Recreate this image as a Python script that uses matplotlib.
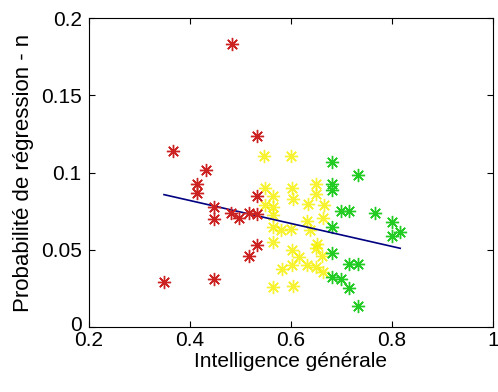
import matplotlib
matplotlib.use("Agg")
import matplotlib.pyplot as plt
import matplotlib.transforms as mtransforms
import numpy as np

# red group
red_x = [0.483, 0.532, 0.366, 0.432, 0.414, 0.414, 0.532, 0.448, 0.448, 0.482,
         0.498, 0.517, 0.532, 0.532, 0.517, 0.349, 0.448]
red_y = [0.183, 0.124, 0.114, 0.102, 0.093, 0.087, 0.085, 0.078, 0.070, 0.074,
         0.071, 0.074, 0.073, 0.053, 0.046, 0.029, 0.031]

# yellow group
yel_x = [0.547, 0.600, 0.549, 0.603, 0.650, 0.565, 0.604, 0.650, 0.549, 0.565,
         0.633, 0.666, 0.565, 0.663, 0.631, 0.564, 0.580, 0.601, 0.638, 0.565,
         0.651, 0.650, 0.602, 0.616, 0.661, 0.602, 0.631, 0.650, 0.582, 0.664,
         0.565, 0.604]
yel_y = [0.111, 0.111, 0.090, 0.090, 0.093, 0.085, 0.083, 0.086, 0.079, 0.078,
         0.080, 0.079, 0.0726, 0.0705, 0.0685, 0.065, 0.063, 0.0635, 0.063, 0.0554,
         0.054, 0.051, 0.050, 0.0457, 0.0462, 0.0405, 0.040, 0.039, 0.0375, 0.0355,
         0.0263, 0.0265]

# green group
grn_x = [0.681, 0.733, 0.681, 0.681, 0.699, 0.715, 0.766, 0.799, 0.816, 0.799,
         0.681, 0.681, 0.715, 0.733, 0.681, 0.699, 0.715, 0.733]
grn_y = [0.107, 0.0985, 0.093, 0.0888, 0.0754, 0.0754, 0.0737, 0.0679, 0.0614, 0.0591,
         0.0651, 0.0479, 0.0409, 0.0409, 0.0323, 0.0312, 0.0256, 0.0138]

# regression line end points
reg_x = [0.349, 0.816]
reg_y = [0.0858, 0.0511]

plt.rcParams['font.family'] = ['Liberation Sans', 'DejaVu Sans']
plt.rcParams['font.size'] = 15

fig = plt.figure(figsize=(4.98, 3.92), dpi=100)
ax = fig.add_axes([0.178, 0.165, 0.8125, 0.789])

# matlab style asterisk: 8 arms
star = (8, 2, 0)
ax.plot(yel_x, yel_y, linestyle='none', marker=star, color='#f5f000', markersize=9.5, markeredgewidth=1.0, alpha=0.8)
ax.plot(grn_x, grn_y, linestyle='none', marker=star, color='#22cc22', markersize=9.5, markeredgewidth=1.0)
ax.plot(reg_x, reg_y, '-', color='#000080', linewidth=1.2)
ax.plot(red_x, red_y, linestyle='none', marker=star, color='#cc2222', markersize=9.5, markeredgewidth=1.0)

ax.set_xlim(0.2, 1)
ax.set_ylim(0, 0.2)
ax.set_xticks([0.2, 0.4, 0.6, 0.8, 1])
ax.set_xticklabels(['0.2', '0.4', '0.6', '0.8', '1'])
ax.set_yticks([0, 0.05, 0.1, 0.15, 0.2])
ax.set_yticklabels(['0', '0.05', '0.1', '0.15', '0.2'])
ax.tick_params(direction='in', top=True, right=True, length=4, width=0.8, pad=3)
ax.tick_params(axis='y', pad=5)
for s in ax.spines.values():
    s.set_linewidth(0.8)

# nudge the "0" label up a little so it only touches the x labels
lbl0 = ax.get_yticklabels()[0]
lbl0.set_transform(lbl0.get_transform() + mtransforms.ScaledTranslation(0, 3 / 72, fig.dpi_scale_trans))

ax.set_xlabel('Intelligence générale', labelpad=1)
ax.set_ylabel('Probabilité de régression - n', fontsize=16, labelpad=5)

fig.savefig('out.png', dpi=100)
